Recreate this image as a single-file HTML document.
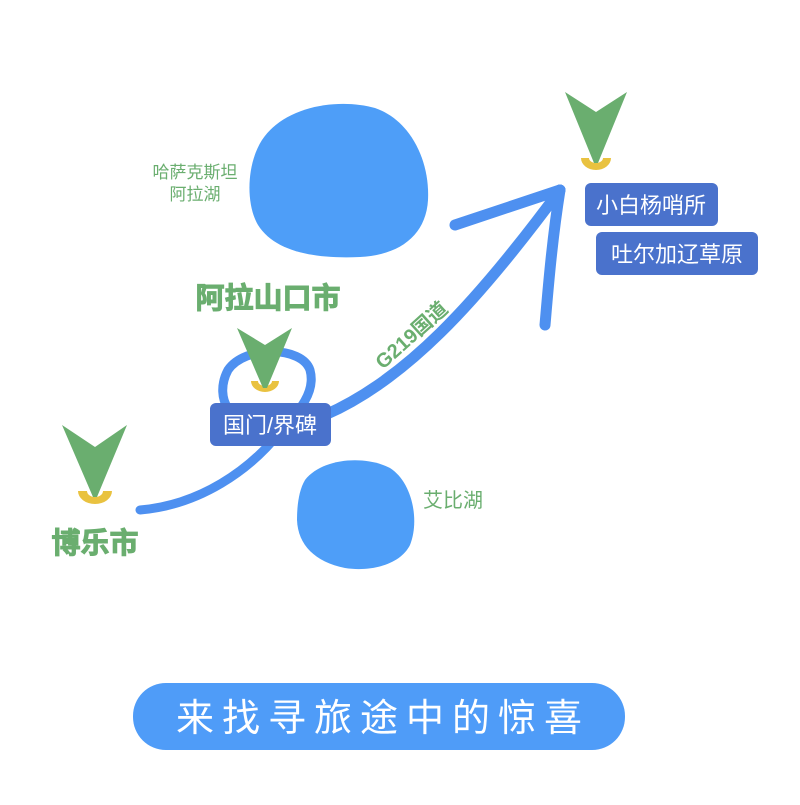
<!DOCTYPE html>
<html><head><meta charset="utf-8"><style>
body{margin:0;width:800px;height:800px;background:#fff;overflow:hidden}
text{font-family:"Liberation Sans","Noto Sans CJK SC",sans-serif}
</style></head><body>
<svg width="800" height="800" viewBox="0 0 800 800">
<!-- lakes -->
<path d="M262,140 C285,105 340,98 375,108 C410,120 430,160 428,200 C426,235 400,255 360,257 C315,259 275,252 258,225 C246,205 246,165 262,140Z" fill="#4e9ef8"/>
<path d="M305,480 C322,458 365,455 390,468 C412,482 420,520 410,545 C400,565 370,572 345,568 C315,562 298,545 297,520 C297,505 299,490 305,480Z" fill="#4e9ef8"/>
<!-- road -->
<g fill="none" stroke="#4e90f0" stroke-linecap="round">
<path stroke-width="9" d="M140,510 C200,505 250,470 280,432 C300,410 316,392 310,370 C302,346 245,345 228,370 C220,385 222,400 228,408"/>
<path stroke-width="11" d="M325,415 C405,380 475,305 560,190"/>
<path stroke-width="11" d="M560,190 L455,225"/>
<path stroke-width="11" d="M560,190 C552,240 548,290 545,325"/>
</g>
<!-- pins -->
<g fill="#e9c240">
<path d="M581,158 a15,12 0 0 0 30,0 l-8,0 a7,5 0 0 1 -14,0z"/>
<path d="M78,491 a17,13 0 0 0 34,0 l-9,0 a8,6 0 0 1 -16,0z"/>
<path d="M251,381 a14,11 0 0 0 28,0 l-7,0 a7,5 0 0 1 -14,0z"/>
</g>
<g fill="#6aae6f">
<path d="M565,92 L596,112 L627,92 L598,163 L594,163Z"/>
<path d="M62,425 L95,447 L127,425 L97,497 L93,497Z"/>
<path d="M237,328 L265,345 L292,328 L267,388 L263,388Z"/>
</g>
<!-- labels -->
<g font-size="17" fill="#6aae6f" text-anchor="middle">
<text x="195" y="178">哈萨克斯坦</text>
<text x="195" y="200">阿拉湖</text>
<text x="453" y="507" font-size="20">艾比湖</text>
</g>
<text x="268" y="308" font-size="29" font-weight="bold" fill="#6aae6f" text-anchor="middle" stroke="#6aae6f" stroke-width="1">阿拉山口市</text>
<text x="95" y="553" font-size="29" font-weight="bold" fill="#6aae6f" text-anchor="middle" stroke="#6aae6f" stroke-width="1">博乐市</text>
<text x="0" y="0" font-size="20" font-weight="bold" fill="#6aae6f" transform="translate(383,370) rotate(-42)">G219国道</text>
<g fill="#4a72cc">
<rect x="210" y="403" width="121" height="43" rx="6"/>
<rect x="585" y="183" width="133" height="43" rx="6"/>
<rect x="596" y="232" width="162" height="43" rx="6"/>
</g>
<g fill="#fff" font-size="22" text-anchor="middle">
<text x="270" y="433">国门/界碑</text>
<text x="651" y="213">小白杨哨所</text>
<text x="677" y="262">吐尔加辽草原</text>
</g>
<rect x="133" y="683" width="492" height="67" rx="33" fill="#4f9cf8"/>
<text x="383" y="731" font-size="38" fill="#fff" text-anchor="middle" letter-spacing="8">来找寻旅途中的惊喜</text>
</svg>
</body></html>
